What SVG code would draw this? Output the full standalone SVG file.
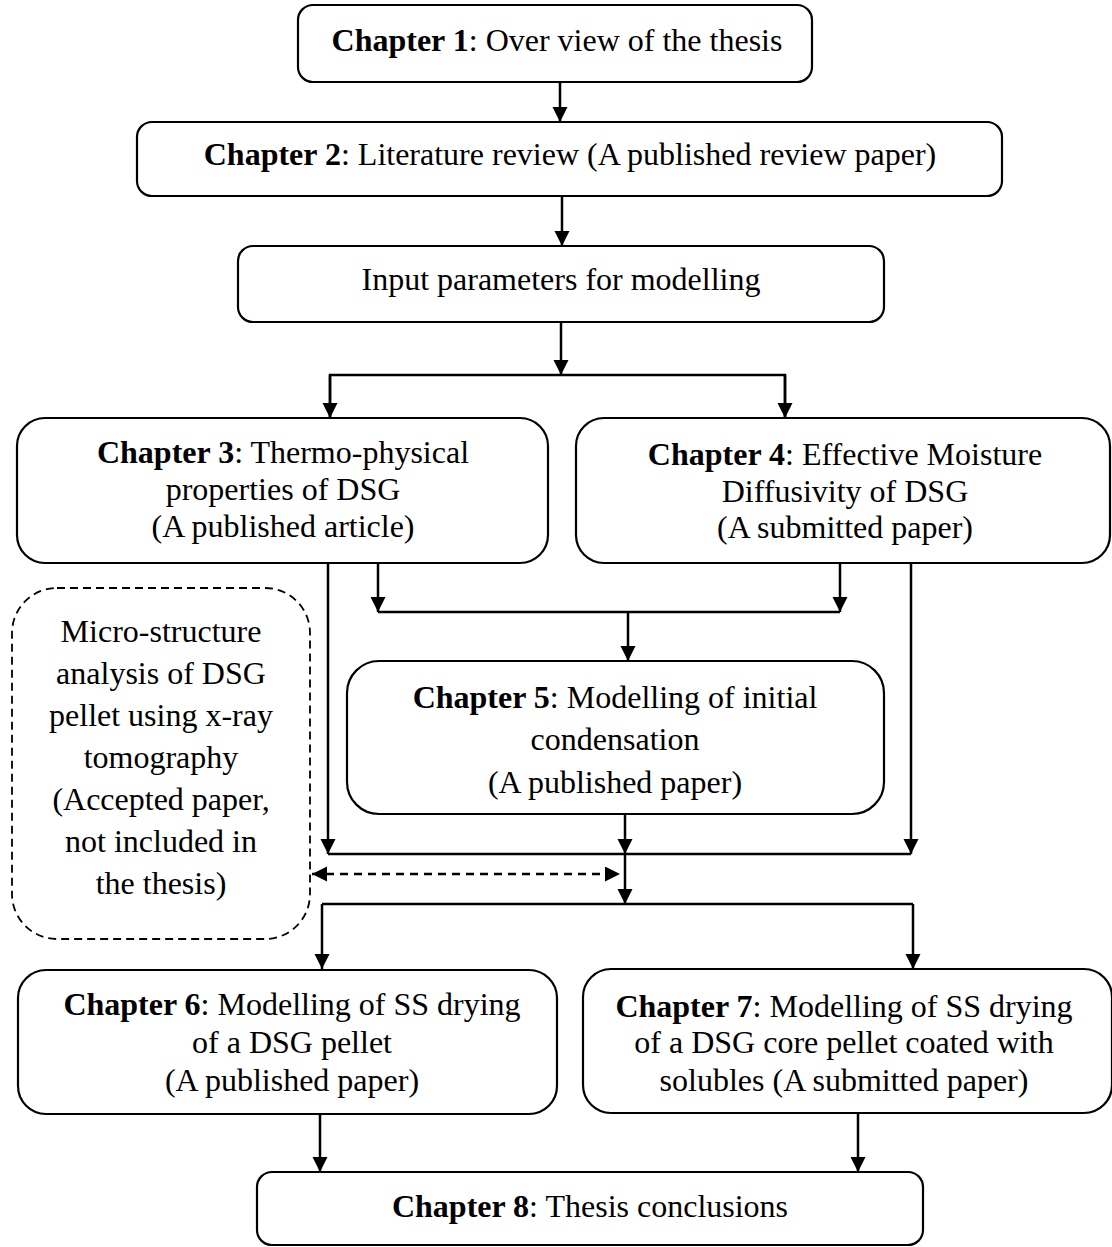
<svg xmlns="http://www.w3.org/2000/svg" width="1112" height="1247" viewBox="0 0 1112 1247">
<style>
.box{fill:#fff;stroke:#000;stroke-width:2.2}
.dbox{fill:#fff;stroke:#000;stroke-width:1.8;stroke-dasharray:8 5}
.t{font-family:"Liberation Serif","Times New Roman",serif;font-size:32px;fill:#000;text-anchor:middle}
.b{font-weight:bold}
.c{fill:none;stroke:#000;stroke-width:2.5}
.a{marker-end:url(#ah)}
.dash{fill:none;stroke:#000;stroke-width:2.5;stroke-dasharray:8 6;marker-end:url(#ah);marker-start:url(#ah)}
</style>
<defs>
<marker id="ah" markerUnits="userSpaceOnUse" markerWidth="16" markerHeight="16" refX="15" refY="7.5" orient="auto-start-reverse">
<path d="M0,0 L15,7.5 L0,15 z" fill="#000"/>
</marker>
</defs>
<rect width="1112" height="1247" fill="#fff"/>
<g id="connectors">
<line class="c a" x1="560" y1="82" x2="560" y2="122"/>
<line class="c a" x1="562" y1="196" x2="562" y2="246"/>
<line class="c a" x1="561" y1="322" x2="561" y2="375"/>
<polyline class="c" points="330,418 330,375 785,375 785,418"/>
<line class="c a" x1="330" y1="375" x2="330" y2="418"/>
<line class="c a" x1="785" y1="375" x2="785" y2="418"/>
<line class="c a" x1="378" y1="563" x2="378" y2="612"/>
<line class="c a" x1="840" y1="563" x2="840" y2="612"/>
<line class="c" x1="378" y1="612" x2="840" y2="612"/>
<line class="c a" x1="628" y1="612" x2="628" y2="661"/>
<line class="c a" x1="328" y1="563" x2="328" y2="854"/>
<line class="c a" x1="911" y1="563" x2="911" y2="854"/>
<line class="c a" x1="625" y1="814" x2="625" y2="854"/>
<line class="c" x1="328" y1="854" x2="911" y2="854"/>
<line class="c a" x1="625" y1="854" x2="625" y2="904"/>
<line class="dash" x1="312" y1="874" x2="620" y2="874"/>
<line class="c" x1="322" y1="904" x2="913" y2="904"/>
<line class="c a" x1="322" y1="904" x2="322" y2="969"/>
<line class="c a" x1="913" y1="904" x2="913" y2="969"/>
<line class="c a" x1="320" y1="1114" x2="320" y2="1172"/>
<line class="c a" x1="858" y1="1113" x2="858" y2="1172"/>
</g>
<g id="ch1">
<rect class="box" x="298" y="5" width="514" height="77" rx="15"/>
<text class="t" x="557" y="51"><tspan class="b">Chapter 1</tspan>: Over view of the thesis</text>
</g>
<g id="ch2">
<rect class="box" x="137" y="122" width="865" height="74" rx="15"/>
<text class="t" x="570" y="165"><tspan class="b">Chapter 2</tspan>: Literature review (A published review paper)</text>
</g>
<g id="input">
<rect class="box" x="238" y="246" width="646" height="76" rx="15"/>
<text class="t" x="561" y="290">Input parameters for modelling</text>
</g>
<g id="ch3">
<rect class="box" x="17" y="418" width="531" height="145" rx="28"/>
<text class="t" x="283" y="463"><tspan class="b">Chapter 3</tspan>: Thermo-physical</text>
<text class="t" x="283" y="500">properties of DSG</text>
<text class="t" x="283" y="537">(A published article)</text>
</g>
<g id="ch4">
<rect class="box" x="576" y="418" width="534" height="145" rx="28"/>
<text class="t" x="845" y="465"><tspan class="b">Chapter 4</tspan>: Effective Moisture</text>
<text class="t" x="845" y="502">Diffusivity of DSG</text>
<text class="t" x="845" y="538">(A submitted paper)</text>
</g>
<g id="micro">
<rect class="dbox" x="12" y="588" width="298" height="351" rx="45"/>
<text class="t" x="161" y="642">Micro-structure</text>
<text class="t" x="161" y="684">analysis of DSG</text>
<text class="t" x="161" y="726">pellet using x-ray</text>
<text class="t" x="161" y="768">tomography</text>
<text class="t" x="161" y="810">(Accepted paper,</text>
<text class="t" x="161" y="852">not included in</text>
<text class="t" x="161" y="894">the thesis)</text>
</g>
<g id="ch5">
<rect class="box" x="347" y="661" width="537" height="153" rx="32"/>
<text class="t" x="615" y="708"><tspan class="b">Chapter 5</tspan>: Modelling of initial</text>
<text class="t" x="615" y="750">condensation</text>
<text class="t" x="615" y="793">(A published paper)</text>
</g>
<g id="ch6">
<rect class="box" x="18" y="970" width="539" height="144" rx="28"/>
<text class="t" x="292" y="1015"><tspan class="b">Chapter 6</tspan>: Modelling of SS drying</text>
<text class="t" x="292" y="1053">of a DSG pellet</text>
<text class="t" x="292" y="1091">(A published paper)</text>
</g>
<g id="ch7">
<rect class="box" x="583" y="969" width="529" height="144" rx="28"/>
<text class="t" x="844" y="1017"><tspan class="b">Chapter 7</tspan>: Modelling of SS drying</text>
<text class="t" x="844" y="1053">of a DSG core pellet coated with</text>
<text class="t" x="844" y="1091">solubles (A submitted paper)</text>
</g>
<g id="ch8">
<rect class="box" x="257" y="1172" width="666" height="73" rx="15"/>
<text class="t" x="590" y="1217"><tspan class="b">Chapter 8</tspan>: Thesis conclusions</text>
</g>
</svg>
